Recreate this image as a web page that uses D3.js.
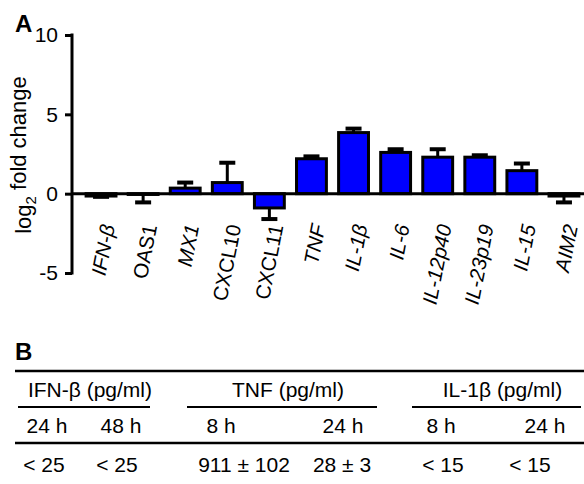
<!DOCTYPE html>
<html>
<head>
<meta charset="utf-8">
<script src="https://cdn.jsdelivr.net/npm/d3@7"></script>
<style>
  body { margin: 0; background: #fff; }
  text { font-family: "Liberation Sans", Arial, sans-serif; fill: #000; }
</style>
</head>
<body>
<div class="chart"></div>
<script>
// panel A: qPCR fold change
var genes = ["IFN-β", "OAS1", "MX1", "CXCL10", "CXCL11", "TNF", "IL-1β", "IL-6", "IL-12p40", "IL-23p19", "IL-15", "AIM2"];
var foldChange = [-0.15, -0.05, 0.35, 0.7, -0.9, 2.2, 3.85, 2.6, 2.3, 2.3, 1.45, -0.15];
var foldError = [0.05, 0.5, 0.35, 1.25, 0.7, 0.15, 0.25, 0.2, 0.5, 0.12, 0.45, 0.4];
var yTicks = [-5, 0, 5, 10];

// panel B: ELISA table
var cytokines = ["IFN-β (pg/ml)", "TNF (pg/ml)", "IL-1β (pg/ml)"];
var timePoints = ["24 h", "48 h", "8 h", "24 h", "8 h", "24 h"];
var elisaValues = ["< 25", "< 25", "911 ± 102", "28 ± 3", "< 15", "< 15"];

var width = 584,
    height = 484;

var svg = d3.select(".chart").append("svg")
    .attr("width", width)
    .attr("height", height);

var y = d3.scaleLinear()
    .domain([-5, 10])
    .range([273, 35]);

var x = d3.scaleBand()
    .domain(genes)
    .range([80, 585])
    .paddingInner(0.29)
    .paddingOuter(0.145);

var upright = ["OAS1", "CXCL10", "CXCL11"];

svg.append("text")
  .text("A")
  .attr("x", 15)
  .attr("y", 32)
  .style("font-size", "24px")
  .style("font-weight", "bold");

// y axis
var yAxis = svg.append("g")
  .attr("transform", "translate(72,0)")
  .call(d3.axisLeft(y).tickValues(yTicks).tickFormat(function(d) { return String(d); })
    .tickSize(7).tickPadding(7));

yAxis.select(".domain").remove();
yAxis.append("line")
  .attr("y1", y(10) - 1.5)
  .attr("y2", y(-5) + 1.5)
  .attr("stroke", "#000")
  .attr("stroke-width", 3);
yAxis.selectAll(".tick line").attr("stroke-width", 3);
yAxis.selectAll(".tick text")
  .style("font-size", "21px")
  .style("font-family", "'Liberation Sans', Arial, sans-serif");

var ylab = svg.append("text")
  .attr("transform", "translate(31," + 155 + ") rotate(-90)")
  .style("text-anchor", "middle")
  .style("font-size", "22px");
ylab.append("tspan").text("log");
ylab.append("tspan").text("2").attr("dy", "0.32em").style("font-size", "15px");
ylab.append("tspan").text(" fold change").attr("dy", "-0.45em");

// bars
var bar = svg.selectAll(".bar")
  .data(genes)
  .enter().append("g")
    .attr("class", "bar");

bar.append("line")
  .attr("x1", function(d) { return x(d) + x.bandwidth() / 2; })
  .attr("x2", function(d) { return x(d) + x.bandwidth() / 2; })
  .attr("y1", function(d, i) { return y(foldChange[i]); })
  .attr("y2", function(d, i) {
    var v = foldChange[i];
    return y(v >= 0 ? v + foldError[i] : v - foldError[i]);
  })
  .attr("stroke", "#000")
  .attr("stroke-width", 3);

bar.append("line")
  .attr("x1", function(d) { return x(d) + x.bandwidth() / 2 - 8; })
  .attr("x2", function(d) { return x(d) + x.bandwidth() / 2 + 8; })
  .attr("y1", function(d, i) {
    var v = foldChange[i];
    return y(v >= 0 ? v + foldError[i] : v - foldError[i]);
  })
  .attr("y2", function(d, i) {
    var v = foldChange[i];
    return y(v >= 0 ? v + foldError[i] : v - foldError[i]);
  })
  .attr("stroke", "#000")
  .attr("stroke-width", 4);

bar.append("rect")
  .attr("x", function(d) { return x(d); })
  .attr("width", x.bandwidth())
  .attr("y", function(d, i) { return Math.min(y(foldChange[i]), y(0)); })
  .attr("height", function(d, i) { return Math.abs(y(foldChange[i]) - y(0)); })
  .attr("fill", "#0000ff")
  .attr("stroke", "#000")
  .attr("stroke-width", 3);

// zero line
svg.append("line")
  .attr("x1", 72)
  .attr("x2", width)
  .attr("y1", y(0))
  .attr("y2", y(0))
  .attr("stroke", "#000")
  .attr("stroke-width", 3);

// gene labels
svg.selectAll(".gene")
  .data(genes)
  .enter().append("text")
    .attr("class", "gene")
    .attr("transform", function(d) {
      return "translate(" + (x(d) + x.bandwidth() / 2 + 14) + ",226) rotate(-79)";
    })
    .style("text-anchor", "end")
    .style("font-size", "20.5px")
    .style("font-style", function(d) { return upright.indexOf(d) > -1 ? "normal" : "italic"; })
    .text(function(d) { return d; });

// panel B
svg.append("text")
  .text("B")
  .attr("x", 15)
  .attr("y", 360)
  .style("font-size", "24px")
  .style("font-weight", "bold");

var groupSpan = d3.scaleOrdinal()
  .domain(cytokines)
  .range([[18, 150], [187, 377], [412, 581]]);

var timeX = d3.scaleOrdinal()
  .domain(d3.range(6))
  .range([47, 121, 221, 343, 441, 545]);

var valueX = d3.scaleOrdinal()
  .domain(d3.range(6))
  .range([44, 117, 244, 342, 443, 530]);

[371, 443].forEach(function(ry) {
  svg.append("line")
    .attr("x1", 15).attr("x2", width)
    .attr("y1", ry).attr("y2", ry)
    .attr("stroke", "#000")
    .attr("stroke-width", 2.5);
});

var group = svg.selectAll(".group")
  .data(cytokines)
  .enter().append("g")
    .attr("class", "group");

group.append("line")
  .attr("x1", function(d) { return groupSpan(d)[0]; })
  .attr("x2", function(d) { return groupSpan(d)[1]; })
  .attr("y1", 407)
  .attr("y2", 407)
  .attr("stroke", "#000")
  .attr("stroke-width", 2);

group.append("text")
  .attr("x", function(d) { return (groupSpan(d)[0] + groupSpan(d)[1]) / 2 + 6; })
  .attr("y", 397)
  .style("text-anchor", "middle")
  .style("font-size", "21px")
  .text(function(d) { return d; });

svg.selectAll(".time")
  .data(timePoints)
  .enter().append("text")
    .attr("class", "time")
    .attr("x", function(d, i) { return timeX(i); })
    .attr("y", 433)
    .style("text-anchor", "middle")
    .style("font-size", "21px")
    .text(function(d) { return d; });

svg.selectAll(".value")
  .data(elisaValues)
  .enter().append("text")
    .attr("class", "value")
    .attr("x", function(d, i) { return valueX(i); })
    .attr("y", 472)
    .style("text-anchor", "middle")
    .style("font-size", "21px")
    .text(function(d) { return d; });
</script>
</body>
</html>
